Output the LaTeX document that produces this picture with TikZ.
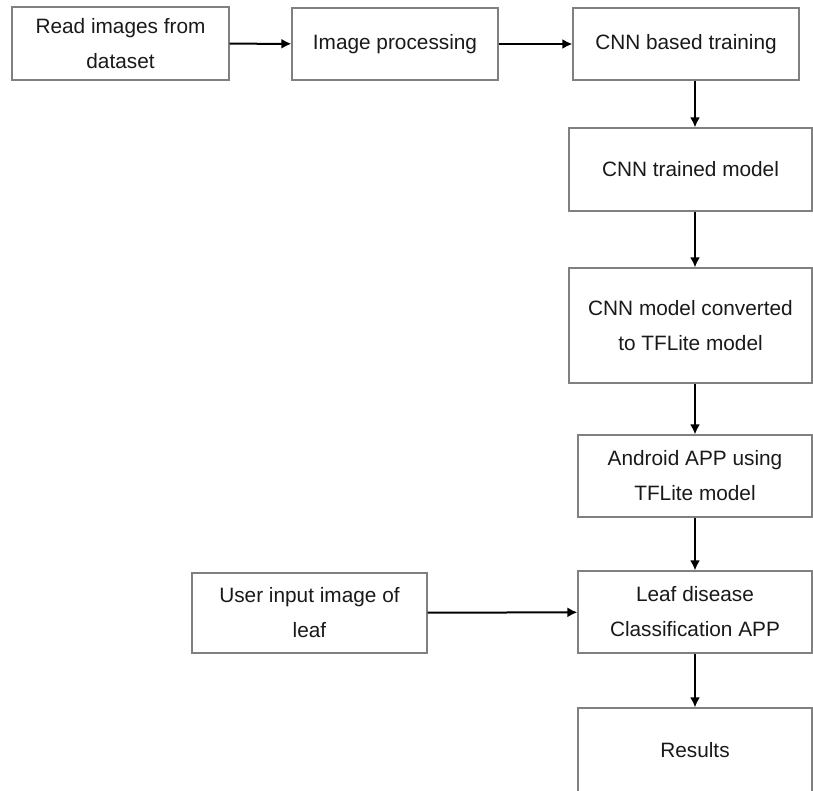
\documentclass[tikz,border=0pt]{standalone}
\usepackage{fontspec}
\setmainfont{Liberation Sans}
\usetikzlibrary{arrows.meta,positioning}
\tikzset{
  stage/.style={draw=black!50, line width=1.2pt, text=black!90, align=center,
    font=\fontsize{20.8}{35}\selectfont, inner sep=0pt},
  flow/.style={line width=2pt, -{Latex[length=10pt,width=10pt]}}
}
\begin{document}
\begin{tikzpicture}[x=1pt,y=-1pt]
\useasboundingbox (0,0) rectangle (813,790);
\node[stage, minimum width=217pt, minimum height=73pt] (read) at (120.5,43.5) {Read images from\\dataset};
\node[stage, minimum width=206pt, minimum height=72pt] (proc) at (395,44) {Image processing};
\node[stage, minimum width=226pt, minimum height=72pt] (train) at (686,44) {CNN based training};
\node[stage, minimum width=243pt, minimum height=83pt] (trained) at (690.5,169.5) {CNN trained model};
\node[stage, minimum width=243pt, minimum height=115pt] (convert) at (690.5,325.5) {CNN model converted\\to TFLite model};
\node[stage, minimum width=234pt, minimum height=82pt] (android) at (695,476) {Android APP using\\TFLite model};
\node[stage, minimum width=234pt, minimum height=82pt] (classify) at (695,612) {Leaf disease\\Classification APP};
\node[stage, minimum width=234pt, minimum height=84pt] (results) at (695,750) {Results};
\node[stage, minimum width=235pt, minimum height=80pt] (user) at (309.5,613) {User input image of\\leaf};
\draw[flow] (read) -- (proc);
\draw[flow] (proc) -- (train);
\draw[flow] (train.south -| android.north) -- (android.north |- trained.north);
\draw[flow] (android.north |- trained.south) -- (android.north |- convert.north);
\draw[flow] (android.north |- convert.south) -- (android);
\draw[flow] (android) -- (classify);
\draw[flow] (classify) -- (results);
\draw[flow] (user) -- (classify);
\end{tikzpicture}
\end{document}
